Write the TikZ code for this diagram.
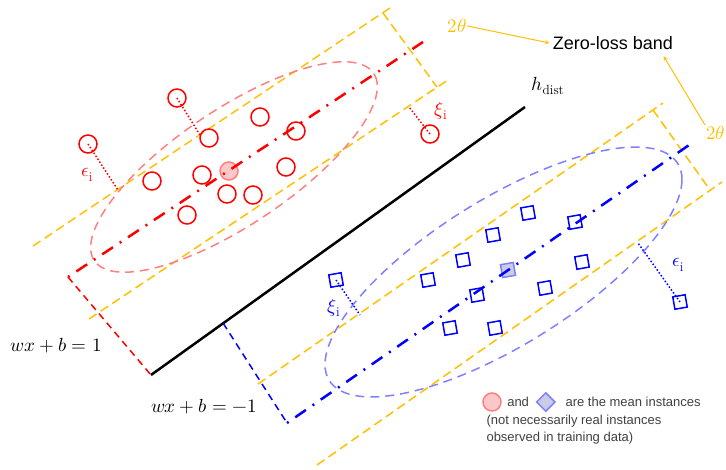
\documentclass[tikz,border=0pt]{standalone}
\usepackage{fontspec}
\usepackage{unicode-math}
\setmainfont{Liberation Sans}
\setmathfont{Latin Modern Math}
\setmathrm{Latin Modern Roman}
\usepackage{tikz}
\usetikzlibrary{shapes,arrows,positioning,calc}
\definecolor{bandorange}{RGB}{255,192,0}
\definecolor{posred}{RGB}{255,0,0}
\definecolor{negblue}{RGB}{0,0,255}
\definecolor{lightred}{RGB}{255,128,128}
\definecolor{lightblue}{RGB}{128,128,255}
\definecolor{meanred}{RGB}{255,200,200}
\definecolor{meanblue}{RGB}{200,204,228}
\definecolor{notegray}{RGB}{64,64,64}

\begin{document}
\begin{tikzpicture}[
    x=1pt, y=1pt,
    >={stealth},
    redpt/.style={circle, draw=posred, line width=1.5pt, minimum size=18pt, inner sep=0pt},
    redmean/.style={circle, draw=lightred, fill=meanred, line width=1.5pt, minimum size=18pt, inner sep=0pt},
    bluept/.style={rectangle, draw=negblue, line width=1.5pt, minimum size=12.5pt, inner sep=0pt, rotate=10},
    bluemean/.style={rectangle, draw=lightblue, fill=meanblue, line width=1.5pt, minimum size=13pt, inner sep=0pt, rotate=10},
    bandline/.style={draw=bandorange, line width=1.5pt, dash pattern=on 9pt off 5pt},
    classline/.style={draw=#1, line width=2.5pt, dash pattern=on 2pt off 8pt on 13pt off 8pt},
    perpline/.style={draw=#1, line width=1.5pt, dash pattern=on 7pt off 5pt},
    hullline/.style={draw=#1, line width=1.5pt, dash pattern=on 9pt off 6pt},
    dotline/.style={draw=#1, line width=1.5pt, dash pattern=on 1.5pt off 2pt},
    mathlabel/.style={font=\fontsize{19}{21}\selectfont, text=#1, inner sep=1pt},
    eqlabel/.style={font=\fontsize{19}{21}\selectfont},
    note/.style={font=\fontsize{13}{17}\selectfont, text=notegray}
]
\useasboundingbox (0,0) rectangle (726,469);

% Zero-loss bands
\coordinate (ru0) at (33,223);  \coordinate (ru1) at (393,463);
\coordinate (rl0) at (89,150);  \coordinate (rl1) at (448,389);
\coordinate (rc0) at (383,456); \coordinate (rc1) at (437,382);
\draw[bandline] (ru0) -- (ru1);
\draw[bandline] (rl0) -- (rl1);
\draw[bandline] (rc0) -- (rc1);
\coordinate (bu0) at (258,85);  \coordinate (bu1) at (663,366);
\coordinate (bl0) at (317,4);   \coordinate (bl1) at (722,287);
\coordinate (bc0) at (653,359); \coordinate (bc1) at (710,279);
\draw[bandline] (bu0) -- (bu1);
\draw[bandline] (bl0) -- (bl1);
\draw[bandline] (bc0) -- (bc1);

% Class hulls
\draw[hullline=lightred] plot[domain=0:360, samples=121, variable=\t]
    ({234+143*cos(\t)-10*sin(\t)}, {302+85*cos(\t)+62*sin(\t)}) -- cycle;
\draw[hullline=lightblue] plot[domain=0:360, samples=121, variable=\t]
    ({503.5+178.5*cos(\t)}, {197+92.5*cos(\t)+84*sin(\t)}) -- cycle;

% Separating hyperplane
\coordinate (h0) at (151,94);
\coordinate (h1) at (525,362);
\draw[line width=2.5pt] (h0) -- (h1);
\coordinate (hb) at ($(h0)!0.193!(h1)$);

% Positive instances
\node[redpt] (r1) at (177,371) {};
\node[redpt] (r2) at (209,331) {};
\node[redpt] (r3) at (88,325) {};
\node[redpt] (r4) at (260,352) {};
\node[redpt] (r5) at (296,338) {};
\node[redpt] (r6) at (152,288) {};
\node[redpt] (r7) at (202,294) {};
\node[redmean] (rm) at (229,298) {};
\node[redpt] (r9) at (286,302) {};
\node[redpt] (r10) at (227,275) {};
\node[redpt] (r11) at (253,274) {};
\node[redpt] (r12) at (187,254) {};
\node[redpt] (r13) at (430,335) {};

% Negative instances
\node[bluept] (b1) at (528,256) {};
\node[bluept] (b2) at (575,247) {};
\node[bluept] (b3) at (493,234) {};
\node[bluept] (b4) at (463,209) {};
\node[bluemean] (bm) at (508,199) {};
\fill[negblue] (bm.center) circle (1.4);
\node[bluept] (b6) at (428,189) {};
\node[bluept] (b7) at (582,207) {};
\node[bluept] (b8) at (477,174) {};
\node[bluept] (b9) at (545,181) {};
\node[bluept] (b10) at (450,141) {};
\node[bluept] (b11) at (495,141) {};
\node[bluept] (b12) at (336,189) {};
\node[bluept] (b13) at (680,167) {};

% Class centre lines
\coordinate (rs) at (68,192);  \coordinate (re) at (423,427);
\coordinate (bs) at (287,46);  \coordinate (be) at (692,326);
\draw[classline=posred] (rs) -- (re);
\draw[classline=negblue] (bs) -- (be);
\draw[perpline=posred] (rs) -- (h0);
\draw[perpline=negblue] (hb) -- (bs);

% Slack distances
\coordinate (r3e) at (118,279);
\coordinate (r1e) at (200,334);
\coordinate (r13e) at (409,362);
\coordinate (b12e) at (360,154);
\coordinate (b13e) at (638,226);
\draw[dotline=posred] (r3.center) -- (r3e);
\draw[dotline=posred] (r1.center) -- (r1e);
\draw[dotline=posred] (r13.center) -- (r13e);
\draw[dotline=negblue] (b12.center) -- (b12e);
\draw[dotline=negblue] (b13.center) -- (b13e);

% Labels
\node[mathlabel=posred] (eps1) at (87,294) {$\epsilon_{\mathrm{i}}$};
\node[mathlabel=posred] (xi1) at (441,358) {$\xi_{\mathrm{i}}$};
\node[mathlabel=negblue] (xi2) at (334,161) {$\xi_{\mathrm{i}}$};
\node[mathlabel=negblue] (eps2) at (678,204) {$\epsilon_{\mathrm{i}}$};
\node[eqlabel] (hdist) at (548,383) {$h_{\mathrm{dist}}$};
\node[eqlabel] (plane1) at (56,123) {$wx+b=1$};
\node[eqlabel] (plane2) at (204,62) {$wx+b=-1$};

% Zero-loss band annotation
\node[font=\fontsize{18}{20}\selectfont] (zlb) at (613,426) {Zero-loss band};
\node[mathlabel=bandorange] (th1) at (457,443) {$2\theta$};
\node[mathlabel=bandorange, anchor=west] (th2) at (705,336) {$2\theta$};
\draw[->, bandorange, line width=1pt] (th1.east) -- (zlb.west);
\draw[->, bandorange, line width=1pt] (th2.north west) -- ($(zlb.south east)+(-13,-3)$);

% Legend
\node[redmean] (legc) at (492,67) {};
\node[note, right=2pt of legc] (legand) {and};
\node[diamond, draw=lightblue, fill=meanblue, line width=1.5pt, minimum size=19pt, inner sep=0pt, right=3pt of legand] (legd) {};
\node[note, right=6pt of legd] (legtxt) {are the mean instances};
\node[note, align=left, anchor=north west] (legsub) at (483,57) {(not necessarily real instances\\observed in training data)};

\end{tikzpicture}
\end{document}
